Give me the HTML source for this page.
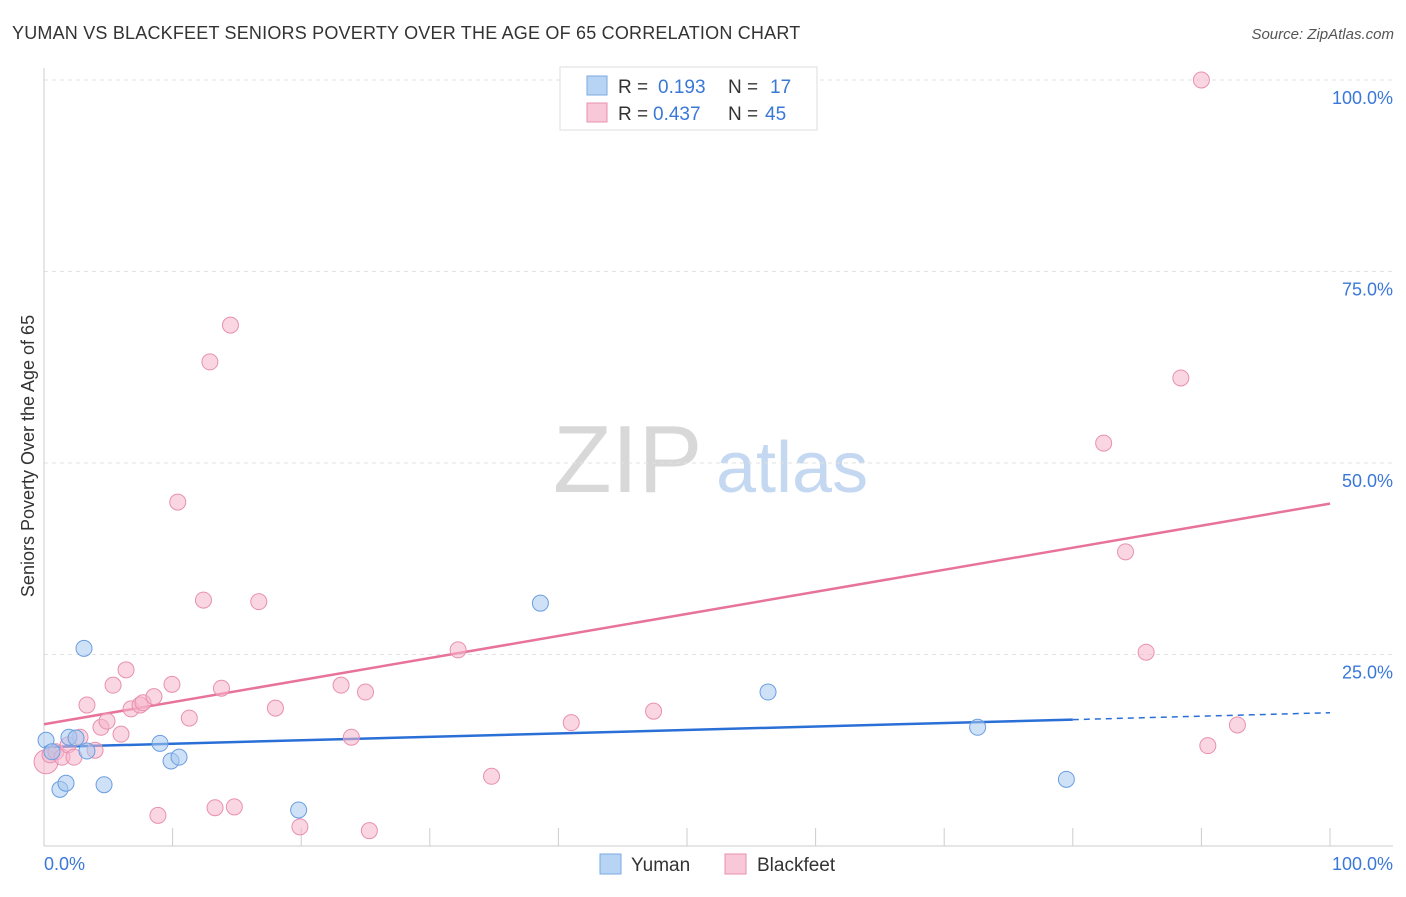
<!DOCTYPE html>
<html><head><meta charset="utf-8"><style>
body{margin:0;background:#fff;font-family:"Liberation Sans",sans-serif}
svg text{font-family:"Liberation Sans",sans-serif}
</style></head><body>
<svg id="chart" width="1406" height="892">
<text x="12" y="39" font-size="18" letter-spacing="0.2" fill="#333">YUMAN VS BLACKFEET SENIORS POVERTY OVER THE AGE OF 65 CORRELATION CHART</text>
<text x="1394" y="39" font-size="15" fill="#555" text-anchor="end" font-style="italic">Source: ZipAtlas.com</text>
<g>
<text x="553" y="492" font-size="96" fill="#d8d8d8" font-family="Liberation Serif">ZIP</text>
<text x="716" y="492" font-size="72" fill="#c4d8f2">atlas</text>
</g>
<g id="grid"></g><g id="axes"></g><g id="trend"></g><g id="pts"></g>
<text transform="translate(34,456) rotate(-90)" font-size="18" fill="#333" text-anchor="middle">Seniors Poverty Over the Age of 65</text>
<g>
<rect x="560" y="67" width="257" height="63" fill="#fff" stroke="#ddd"/>
<rect x="587" y="76" width="20" height="19" fill="#b8d4f4" stroke="#7aaae0"/>
<rect x="587" y="103" width="20" height="19" fill="#f8c8d8" stroke="#e890b0"/>
<text x="618" y="93" font-size="19" fill="#333">R = <tspan x="658" fill="#3a78d8">0.193</tspan><tspan x="728" fill="#333">N = </tspan><tspan x="770" fill="#3a78d8">17</tspan></text>
<text x="618" y="120" font-size="19" fill="#333">R = <tspan x="653" fill="#3a78d8">0.437</tspan><tspan x="728" fill="#333">N = </tspan><tspan x="765" fill="#3a78d8">45</tspan></text>
</g>
<g>
<rect x="600" y="854" width="21" height="20" fill="#b8d4f4" stroke="#7aaae0"/>
<text x="631" y="871" font-size="19" fill="#333">Yuman</text>
<rect x="725" y="854" width="21" height="20" fill="#f8c8d8" stroke="#e890b0"/>
<text x="757" y="871" font-size="19" fill="#333">Blackfeet</text>
</g>
</svg>
<script>
const yumanX=[0.16,0.62,1.24,1.71,1.94,2.49,3.11,3.34,4.67,9.02,9.88,10.5,19.8,38.6,56.3,72.6,79.5];
const yumanY=[13.8,12.3,7.4,8.2,14.2,14.1,25.8,12.4,8.0,13.4,11.1,11.6,4.7,31.7,20.1,15.5,8.7];
const blackX=[0.16,0.47,0.93,1.4,1.87,2.33,2.8,3.34,3.97,4.43,4.9,5.37,5.99,6.38,6.77,7.47,7.7,8.55,8.86,9.95,10.4,11.3,12.4,12.9,13.3,13.8,14.5,14.8,16.7,18.0,19.9,23.1,23.9,25.0,25.3,32.2,34.8,41.0,47.4,82.4,84.1,85.7,88.4,90.0,90.5,92.8];
const blackY=[11.0,11.9,12.3,11.6,13.2,11.6,14.2,18.4,12.5,15.5,16.3,21.0,14.6,23.0,17.9,18.4,18.7,19.5,4.0,21.1,44.9,16.7,32.1,63.2,5.0,20.6,68.0,5.1,31.9,18.0,2.5,21.0,14.2,20.1,2.0,25.6,9.1,16.1,17.6,52.6,38.4,25.3,61.1,100,13.1,15.8];
const trendIntercepts=[12.9,15.9];
const trendSlopes=[0.045,0.288];
const yTicks=[25,50,75,100];
const yTickLabels=["25.0%","50.0%","75.0%","100.0%"];
const xTicks=[10,20,30,40,50,60,70,80,90,100];
const NS="http://www.w3.org/2000/svg";
const sx=v=>44+v*12.86, sy=v=>846-v*7.66;
function mk(tag,attrs,parent){const e=document.createElementNS(NS,tag);for(const k in attrs)e.setAttribute(k,attrs[k]);document.getElementById(parent).appendChild(e);return e;}
yTicks.forEach((t,i)=>{
 const l=mk('line',{x1:44,x2:1393,y1:sy(t),y2:sy(t),stroke:'#e2e2e2','stroke-dasharray':'4,4'},'grid');
 
 
 const tx=mk('text',{x:1393,y:sy(t)+24,'font-size':18,fill:'#3a78d8','text-anchor':'end'},'grid');
 tx.textContent=yTickLabels[i];
 
 
});
const ax=mk('line',{x1:44,x2:44,y1:68,y2:846,stroke:'#ccc'},'axes');


const bx=mk('line',{x1:44,x2:1393,y1:846,y2:846,stroke:'#ccc'},'axes');


xTicks.forEach(t=>{
 const l=mk('line',{x1:sx(t),x2:sx(t),y1:828,y2:846,stroke:'#ccc'},'axes');
 
 
});
const x0=mk('text',{x:44,y:870,'font-size':18,fill:'#3a78d8'},'axes');x0.textContent='0.0%';


const x1=mk('text',{x:1393,y:870,'font-size':18,fill:'#3a78d8','text-anchor':'end'},'axes');x1.textContent='100.0%';


function pts(X,Y,fill,stroke,name,big){X.forEach((x,i)=>{
 const c=mk('circle',{cx:sx(x),cy:sy(Y[i]),r:(big&&i===0)?12:8,fill:fill,'fill-opacity':0.55,stroke:stroke,'stroke-width':1},'pts');
 
 
});}
pts(blackX,blackY,'#f6b4ca','#e890b0','blackfeet-point',true);
pts(yumanX,yumanY,'#a8c8f0','#6a9ee0','yuman-point',false);
const b=trendIntercepts, m=trendSlopes;
const t1=mk('line',{x1:sx(0),y1:sy(b[0]),x2:sx(80),y2:sy(b[0]+m[0]*80),stroke:'#2a6fd6','stroke-width':2.5},'trend');


const t2=mk('line',{x1:sx(80),y1:sy(b[0]+m[0]*80),x2:sx(100),y2:sy(b[0]+m[0]*100),stroke:'#2a6fd6','stroke-width':1.5,'stroke-dasharray':'6,5'},'trend');


const t3=mk('line',{x1:sx(0),y1:sy(b[1]),x2:sx(100),y2:sy(b[1]+m[1]*100),stroke:'#e8739a','stroke-width':2.5},'trend');


</script>
</body></html>
